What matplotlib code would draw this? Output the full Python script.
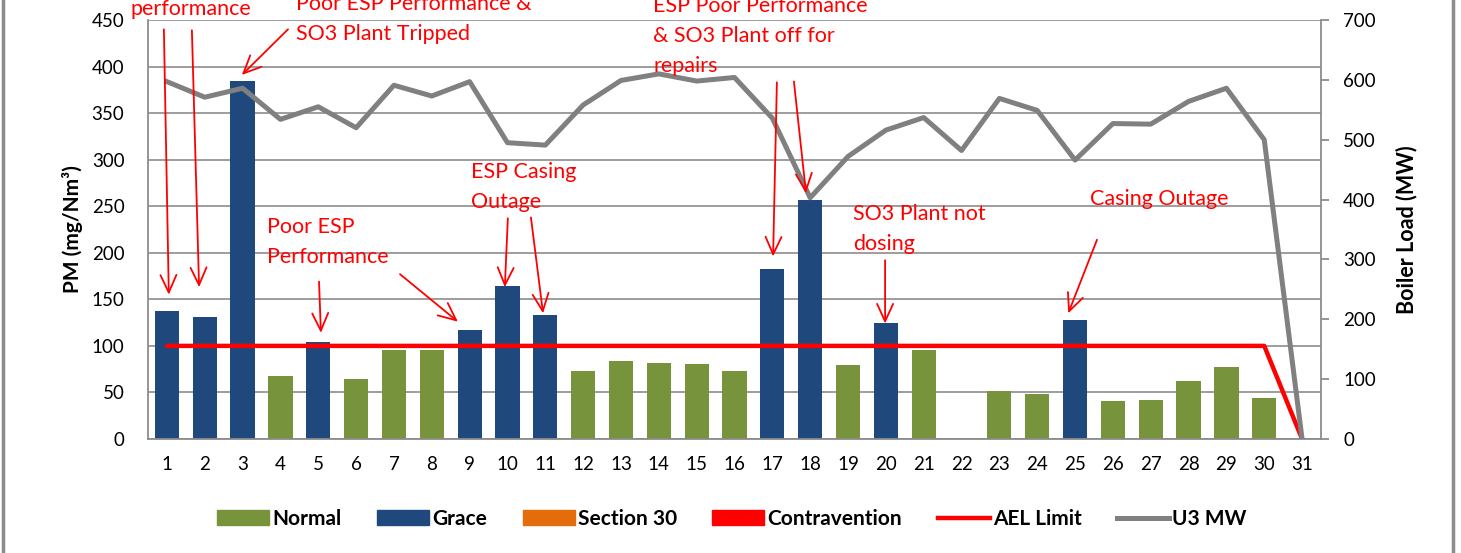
import numpy as np
import matplotlib
matplotlib.use("Agg")
import matplotlib.pyplot as plt
from matplotlib.patches import Patch
from matplotlib.lines import Line2D

plt.rcParams['font.family'] = ['Lato', 'DejaVu Sans']

# ---------------- data ----------------
days = list(range(1, 32))
pm = [138, 131, 385, 68, 104, 64, 96, 96, 117, 164, 133, 73, 84, 82, 81, 73,
      183, 257, 79, 125, 96, np.nan, 52, 48, 128, 41, 42, 62, 77, 44, 0]
status = ['Grace', 'Grace', 'Grace', 'Normal', 'Grace', 'Normal', 'Normal', 'Normal',
          'Grace', 'Grace', 'Grace', 'Normal', 'Normal', 'Normal', 'Normal', 'Normal',
          'Grace', 'Grace', 'Normal', 'Grace', 'Normal', 'Normal', 'Normal', 'Normal',
          'Grace', 'Normal', 'Normal', 'Normal', 'Normal', 'Normal', 'Normal']
ael_limit = [100, 100, 100, 100, 100, 100, 100, 100, 100, 100, 100, 100, 100, 100, 100, 100,
             100, 100, 100, 100, 100, 100, 100, 100, 100, 100, 100, 100, 100, 100, 0]
u3_mw = [597, 571, 586, 534, 555, 520, 591, 573, 597, 495, 491, 558, 599, 610, 598, 604,
         536, 403, 472, 516, 537, 482, 569, 549, 466, 527, 526, 564, 586, 500, 0]
xtick_labels = [str(d) for d in days]

colors = {'Normal': '#77933C', 'Grace': '#1F497D', 'Section 30': '#E46C0A',
          'Contravention': '#FF0000'}
ael_color = '#FF0000'
mw_color = '#808080'
grid_color = '#8C8C8C'
ann_color = '#FF0000'

# annotations: (text, x, y) in data coords, left aligned, vertically centred
notes = [
    ("performance", 0.05, 462),
    ("Poor ESP Performance &\nSO3 Plant Tripped", 4.41, 451),
    ("ESP Poor Performance\n& SO3 Plant off for\nrepairs", 13.85, 433),
    ("ESP Casing\nOutage", 9.04, 271),
    ("Poor ESP\nPerformance", 3.64, 212),
    ("SO3 Plant not\ndosing", 19.13, 226),
    ("Casing Outage", 25.4, 258),
]
# arrows: (x_start, y_start, x_end, y_end) in data coords
arrows = [
    (0.92, 440, 1.05, 155),
    (1.66, 439, 1.85, 163),
    (4.20, 440, 2.98, 391),
    (5.02, 169, 5.07, 114),
    (7.16, 177, 8.69, 126),
    (10.01, 237, 9.93, 163),
    (10.62, 238, 10.94, 135),
    (17.12, 383, 17.02, 196),
    (17.57, 384, 17.89, 264),
    (19.98, 192, 19.98, 124),
    (25.58, 214, 24.82, 135),
]

# ---------------- figure ----------------
W, H = 1461, 553
fig = plt.figure(figsize=(W / 100, H / 100), dpi=100)
ax = fig.add_axes([148 / W, 1 - 439 / H, (1321 - 148) / W, (439 - 20) / H])

bar_colors = [colors[s] for s in status]
ax.bar(days, pm, width=0.64, color=bar_colors, zorder=2)

ax.set_xlim(0.5, 31.5)
ax.set_ylim(0, 450)
ax.set_yticks(np.arange(0, 451, 50))
ax.set_xticks(days)
ax.set_xticklabels(xtick_labels)
ax.yaxis.grid(True, color=grid_color, lw=1.2, zorder=0)
ax.set_axisbelow(True)
for s in ['left', 'bottom', 'right']:
    ax.spines[s].set_color(grid_color)
    ax.spines[s].set_linewidth(1.3)
ax.spines['top'].set_visible(False)
ax.tick_params(axis='y', length=0, pad=17, labelsize=13.5, colors='black')
ax.tick_params(axis='x', length=0, pad=12, labelsize=13.5, colors='black')
ax.set_ylabel("PM (mg/Nm³)", fontsize=15, fontweight='bold', labelpad=6)

ax2 = ax.twinx()
ax2.set_ylim(0, 700)
ax2.set_yticks(np.arange(0, 701, 100))
ax2.tick_params(axis='y', length=6, width=1.3, color=grid_color, pad=10, labelsize=13.5)
for s in ['left', 'bottom', 'right', 'top']:
    ax2.spines[s].set_visible(False)
ax2.set_ylabel("Boiler Load (MW)", fontsize=15.5, fontweight='bold', labelpad=14)

ax2.plot(days, ael_limit, color=ael_color, lw=3.2, transform=ax.transData,
         zorder=3, solid_capstyle='round')
ax2.plot(days, u3_mw, color=mw_color, lw=3.6, zorder=4)

for txt, x, y in notes:
    ax2.text(x, y, txt, transform=ax.transData, color=ann_color, fontsize=15.5,
             ha='left', va='center', linespacing=1.62, zorder=6, clip_on=False)
for x0, y0, x1, y1 in arrows:
    ax2.annotate('', xy=(x1, y1), xytext=(x0, y0), xycoords=ax.transData,
                 textcoords=ax.transData,
                 arrowprops=dict(arrowstyle='->,head_length=0.7,head_width=0.32',
                                 color=ann_color, lw=1.3, shrinkA=0, shrinkB=0,
                                 mutation_scale=18),
                 zorder=6, annotation_clip=False)

handles = [Patch(color=colors['Normal']), Patch(color=colors['Grace']),
           Patch(color=colors['Section 30']), Patch(color=colors['Contravention']),
           Line2D([], [], color=ael_color, lw=3.2), Line2D([], [], color=mw_color, lw=3.6)]
labels = ['Normal', 'Grace', 'Section 30', 'Contravention', 'AEL Limit', 'U3 MW']
leg = fig.legend(handles, labels, loc='center', bbox_to_anchor=(732 / W, 1 - 519 / H),
                 ncol=6, frameon=False, handlelength=2.5, handleheight=0.7,
                 handletextpad=0.15, columnspacing=1.7,
                 prop={'weight': 'bold', 'size': 15})

# chart border (left and right edges visible)
for xp in (3, 1453):
    fig.add_artist(Line2D([xp / W, xp / W], [0, 1], transform=fig.transFigure,
                          color='#8C8C8C', lw=2.5))

fig.savefig("out.png", dpi=100)
